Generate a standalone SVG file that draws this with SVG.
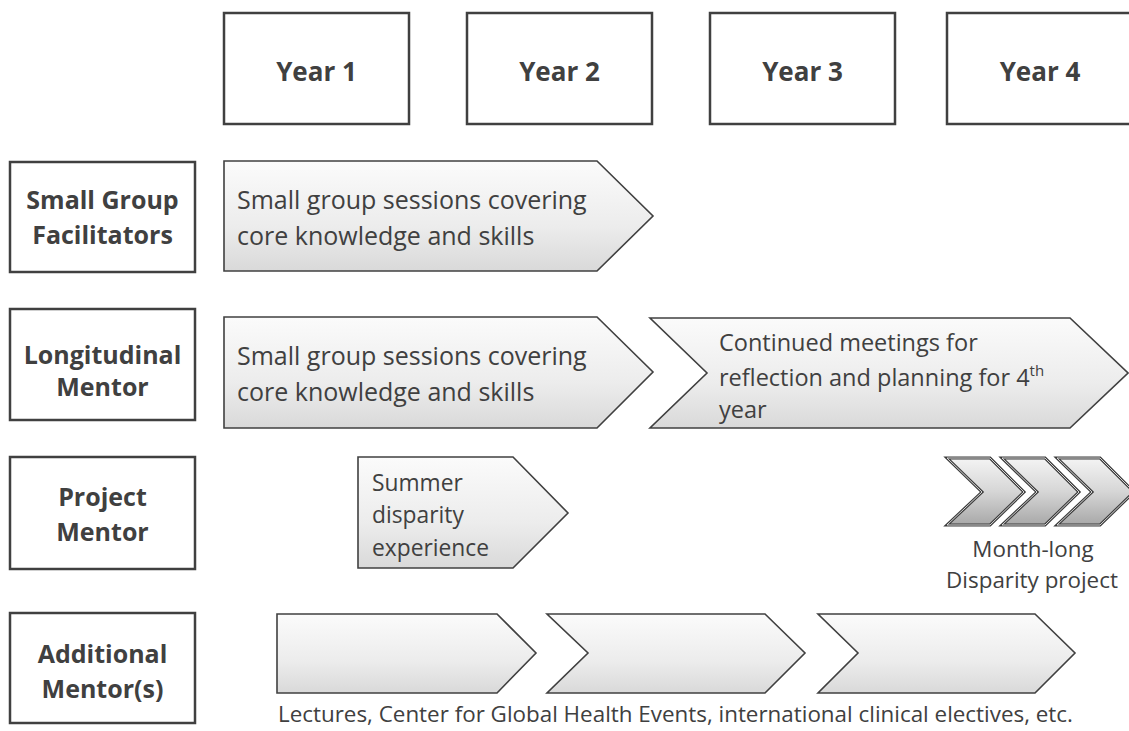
<svg xmlns="http://www.w3.org/2000/svg" width="1129" height="731" viewBox="0 0 1129 731">
<defs>
<linearGradient id="gArrow" x1="0" y1="0" x2="0" y2="1">
<stop offset="0" stop-color="#fbfbfb"/>
<stop offset="0.6" stop-color="#ececec"/>
<stop offset="1" stop-color="#d9d9d9"/>
</linearGradient>
<linearGradient id="gChev" x1="0" y1="0" x2="0" y2="1">
<stop offset="0" stop-color="#f4f4f4"/>
<stop offset="0.5" stop-color="#d6d6d6"/>
<stop offset="1" stop-color="#a8a8a8"/>
</linearGradient>
</defs>
<style>
.box{fill:#ffffff;stroke:#404040;stroke-width:2.5}
.arrow{fill:url(#gArrow);stroke:#404040;stroke-width:1.6;stroke-linejoin:miter}
.chev{fill:url(#gChev);stroke:#3c3c3c;stroke-width:3;stroke-linejoin:miter}
.chevhl{fill:none;stroke:#e6e6e6;stroke-width:0.9}
.hdr{font-family:"Open Sans","Liberation Sans",sans-serif;font-weight:bold;font-size:26px;fill:#404040;text-anchor:middle}
.lbl{font-family:"Open Sans","Liberation Sans",sans-serif;font-weight:bold;font-size:25px;fill:#404040;text-anchor:middle}
.txt{font-family:"Open Sans","Liberation Sans",sans-serif;font-size:25px;fill:#404040}
.txt2{font-family:"Open Sans","Liberation Sans",sans-serif;font-size:23.5px;fill:#404040}
.txt3{font-family:"Open Sans","Liberation Sans",sans-serif;font-size:22.8px;fill:#404040}
.cap{font-family:"Open Sans","Liberation Sans",sans-serif;font-size:22.4px;fill:#404040}
</style>
<rect width="1129" height="731" fill="#ffffff"/>

<g id="year1"><rect class="box" x="224" y="13" width="185" height="111"/><text class="hdr" x="316.5" y="81">Year 1</text></g>
<g id="year2"><rect class="box" x="467" y="13" width="185" height="111"/><text class="hdr" x="559.5" y="81">Year 2</text></g>
<g id="year3"><rect class="box" x="710" y="13" width="185" height="111"/><text class="hdr" x="802.5" y="81">Year 3</text></g>
<g id="year4"><rect class="box" x="947" y="13" width="186" height="111"/><text class="hdr" x="1040" y="81">Year 4</text></g>

<g id="role-small-group"><rect class="box" x="10" y="162" width="185" height="110"/><text class="lbl" x="102.5" y="209">Small Group</text><text class="lbl" x="102.5" y="244">Facilitators</text></g>
<g id="role-longitudinal"><rect class="box" x="10" y="309" width="185" height="111"/><text class="lbl" x="102.5" y="364">Longitudinal</text><text class="lbl" x="102.5" y="396">Mentor</text></g>
<g id="role-project"><rect class="box" x="10" y="457" width="185" height="112"/><text class="lbl" x="102.5" y="506">Project</text><text class="lbl" x="102.5" y="541">Mentor</text></g>
<g id="role-additional"><rect class="box" x="10" y="613" width="185" height="110"/><text class="lbl" x="102.5" y="663">Additional</text><text class="lbl" x="102.5" y="698">Mentor(s)</text></g>

<g id="sg-sessions"><path class="arrow" d="M224,161 L597,161 L653,216 L597,271 L224,271 Z"/><text class="txt" x="237" y="209">Small group sessions covering</text><text class="txt" x="237" y="245">core knowledge and skills</text></g>

<g id="lm-sessions"><path class="arrow" d="M224,317 L597,317 L653,372 L597,428 L224,428 Z"/><text class="txt" x="237" y="365">Small group sessions covering</text><text class="txt" x="237" y="401">core knowledge and skills</text></g>

<g id="lm-continued"><path class="arrow" d="M650,318 L1070,318 L1128,373 L1070,428 L650,428 L707,373 Z"/><text class="txt2" x="719" y="351">Continued meetings for</text><text class="txt2" x="719" y="386">reflection and planning for 4<tspan font-size="15" dy="-10">th</tspan></text><text class="txt2" x="719" y="418">year</text></g>

<g id="pm-summer"><path class="arrow" d="M358,457 L513,457 L568,513 L513,568 L358,568 Z"/><text class="txt3" x="372" y="491">Summer</text><text class="txt3" x="372" y="523">disparity</text><text class="txt3" x="372" y="556">experience</text></g>

<g id="pm-monthlong">
<path class="chev" d="M947,458 L990,458 L1024,492 L990,525 L947,525 L982,492 Z"/>
<path class="chevhl" d="M947,458 L990,458 L1024,492 L990,525 L947,525 L982,492 Z"/>
<path class="chev" d="M1002,458 L1045,458 L1079,492 L1045,525 L1002,525 L1037,492 Z"/>
<path class="chevhl" d="M1002,458 L1045,458 L1079,492 L1045,525 L1002,525 L1037,492 Z"/>
<path class="chev" d="M1057,458 L1100,458 L1134,492 L1100,525 L1057,525 L1092,492 Z"/>
<path class="chevhl" d="M1057,458 L1100,458 L1134,492 L1100,525 L1057,525 L1092,492 Z"/>
<text class="cap" x="1033" y="557" text-anchor="middle">Month-long</text>
<text class="cap" x="1032" y="588" text-anchor="middle">Disparity project</text>
</g>

<g id="am-activities">
<path class="arrow" d="M277,614 L497,614 L536,653 L497,693 L277,693 Z"/>
<path class="arrow" d="M547,614 L765,614 L805,653 L765,693 L547,693 L588,653 Z"/>
<path class="arrow" d="M818,614 L1035,614 L1075,653 L1035,693 L818,693 L858,653 Z"/>
<text class="cap" x="278" y="722">Lectures, Center for Global Health Events, international clinical electives, etc.</text>
</g>

<g id="connectors"/>
</svg>
